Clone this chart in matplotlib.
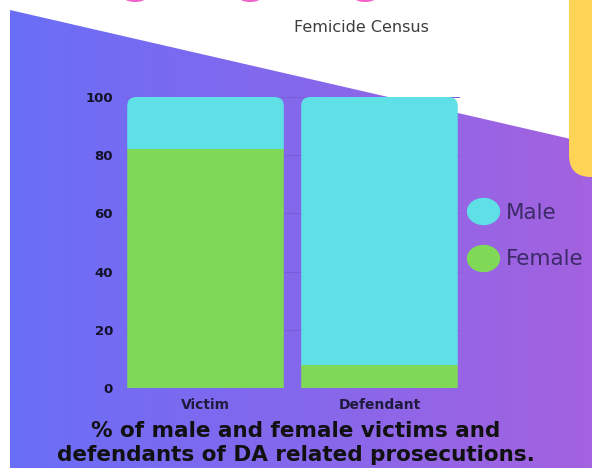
import numpy as np
import matplotlib.pyplot as plt
from matplotlib.patches import FancyBboxPatch, Polygon
from matplotlib.lines import Line2D
from matplotlib.colors import LinearSegmentedColormap

# data
groups = ['Victim', 'Defendant']
female = [82, 8]
male = [18, 92]
yticks = [0, 20, 40, 60, 80, 100]
legend_labels = ['Male', 'Female']

cyan = '#5fe0e6'
green = '#7fd957'

W, H = 592, 468
fig = plt.figure(figsize=(W / 100, H / 100), dpi=100, facecolor='white')

# background layer in pixel coords
bg = fig.add_axes([0, 0, 1, 1], zorder=0)
bg.set_xlim(0, W)
bg.set_ylim(H, 0)
bg.axis('off')
grad = LinearSegmentedColormap.from_list('bg', ['#6a6ef7', '#8568ec', '#a462df'])
bg.imshow(grad(np.linspace(0, 1, 256))[None, :, :], extent=[10, W, H, 0], aspect='auto')
# white diagonal cut at the top
bg.add_patch(Polygon([(0, 0), (W, 0), (W, 10 + 0.23 * (W - 10)), (10, 10), (0, 10)],
                     closed=True, facecolor='white', edgecolor='none'))
# yellow card on the right
bg.add_patch(FancyBboxPatch((569, -40), 80, 217, boxstyle='round,pad=0,rounding_size=22',
                            facecolor='#fdd455', edgecolor='none'))
# pink heading, almost entirely above the top edge
for xc in [135, 250, 365]:
    bg.text(xc, 1.5, 'o', color='#f062c8', fontsize=40, ha='center', va='baseline',
            fontweight='bold')
bg.text(361, 28, 'Femicide Census', fontsize=11.5, color='#3d3d3d', ha='center', va='center')

# chart
ax = fig.add_axes([125.5 / W, 1 - 388 / H, 334 / W, 291 / H], zorder=1)
ax.patch.set_alpha(0)
x = np.arange(len(groups))
bw = 0.9
b1 = ax.bar(x, female, width=bw, color=green, zorder=3)
b2 = ax.bar(x, male, bottom=female, width=bw, color=cyan, zorder=3)
ax.set_xlim(-0.46, 1.46)
ax.set_ylim(0, 100)

# round the top corners of each stack
fig.canvas.draw()
bbox = ax.get_window_extent()
px_x = (ax.get_xlim()[1] - ax.get_xlim()[0]) / bbox.width
px_y = (ax.get_ylim()[1] - ax.get_ylim()[0]) / bbox.height
for i in range(len(groups)):
    clip = FancyBboxPatch((x[i] - bw / 2, -10), bw, 110,
                          boxstyle=f'round,pad=0,rounding_size={9 * px_x}',
                          mutation_aspect=px_y / px_x, transform=ax.transData)
    b1[i].set_clip_path(clip)
    b2[i].set_clip_path(clip)

ax.set_yticks(yticks)
ax.set_xticks(x)
ax.set_xticklabels(groups)
ax.grid(axis='y', color='#7a5cd8', lw=0.7, zorder=0)
for s in ax.spines.values():
    s.set_visible(False)
ax.tick_params(axis='y', length=0, pad=9, labelsize=9.5, labelcolor='#14122b')
ax.tick_params(axis='x', length=0, pad=7, labelsize=10, labelcolor='#1f1b3d')
for lab in ax.get_yticklabels() + ax.get_xticklabels():
    lab.set_fontweight('bold')

# legend
t = np.linspace(0, 2 * np.pi, 60)
ell = np.column_stack([1.22 * np.cos(t), np.sin(t)])
handles = [Line2D([], [], ls='', marker=ell, markersize=24, markerfacecolor=c,
                  markeredgecolor='none') for c in [cyan, green]]
fig.legend(handles, legend_labels, loc='upper left', bbox_to_anchor=(468 / W, 1 - 203 / H),
           frameon=False, fontsize=15.5, labelcolor='#3b2a66', handlelength=1.4,
           handletextpad=0.35, labelspacing=1.23, borderpad=0, borderaxespad=0)

fig.text(296 / W, 1 - 443 / H,
         '% of male and female victims and\ndefendants of DA related prosecutions.',
         ha='center', va='center', fontsize=15.5, fontweight='bold', color='#111111',
         linespacing=1.3)

fig.savefig('out.png', dpi=100, facecolor='white')
